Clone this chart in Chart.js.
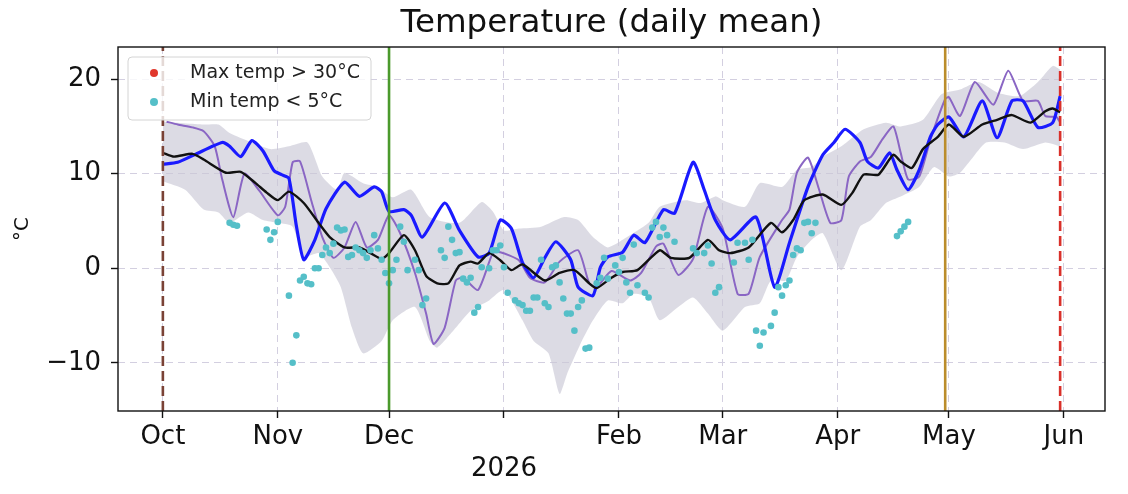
<!DOCTYPE html>
<html>
<head>
<meta charset="utf-8">
<script src="https://cdn.jsdelivr.net/npm/chart.js@4.4.1/dist/chart.umd.min.js"></script>
<style>
  html, body { margin: 0; background: #fff; }
  #wrap { width: 1128px; height: 494px; }
</style>
</head>
<body>
<div id="wrap"><canvas id="chart"></canvas></div>
<script>
// x values are days since 1 Oct 2025
const monthTicks = [0, 31, 61, 92, 123, 151, 182, 212, 243];
const monthLabels = ['Oct', 'Nov', 'Dec', '', 'Feb', 'Mar', 'Apr', 'May', 'Jun'];
const yearTick = 92;
const yearLabel = '2026';
const tempTicks = [-10, 0, 10, 20];

// observed daily mean (blue)
const obsDays = [0,4,9,16,18,21,24,27,30,32,34,36,38,41,44,49,53,57,59,61,65,67,70,76,80,85,88,91,94,97,100,103,106,110,112,116,118,120,124,127,130,135,138,143,146,149,153,160,165,169,174,178,181,184,188,190,193,196,198,201,204,207,209,212,216,221,225,229,232,236,240,242];
const obsTemp = [11.0,11.2,12.1,13.3,12.9,11.8,13.5,12.4,10.3,9.9,9.5,4.5,0.9,3.0,6.3,9.1,7.6,8.6,8.1,6.0,6.2,5.6,3.3,6.9,4.0,1.2,1.6,5.1,4.2,0.6,-1.0,1.1,2.8,0.9,-2.0,-2.9,0.1,1.2,1.7,3.5,2.7,6.2,5.8,11.2,8.3,5.1,3.0,5.4,-2.0,2.7,8.6,12.0,13.3,14.7,13.3,11.3,10.6,12.2,10.4,8.3,10.4,13.9,15.2,16.0,13.9,17.7,13.8,17.7,17.7,14.9,15.4,18.2];

// previous season (purple)
const prevDays = [1,4,8,11,14,16,19,22,26,31,33,35,37,40,43,46,49,52,55,58,61,64,68,71,73,76,79,81,85,89,91,96,99,103,107,112,115,117,121,126,129,133,135,139,143,147,151,155,158,161,167,169,171,174,177,180,183,185,188,191,194,197,199,201,204,207,211,212,215,219,224,228,232,236,238,241,242];
const prevTemp = [15.5,15.2,14.9,14.5,12.9,9.4,5.4,10.0,8.2,5.6,6.5,11.2,11.3,7.2,3.3,1.1,2.2,4.9,2.2,3.0,5.6,3.7,-0.5,-4.8,-8.0,-6.3,-1.3,-1.0,-2.3,1.6,1.7,0.85,-1.0,-1.5,0.7,1.9,-1.6,-2.0,-0.3,-1.3,-0.5,2.3,2.6,-0.7,1.0,6.5,4.2,-2.7,-2.7,1.2,5.1,6.2,10.1,11.7,8.3,4.8,5.1,9.7,11.3,11.8,13.6,15.0,12.2,9.4,9.7,13.6,17.9,18.1,16.1,19.7,17.3,20.9,17.7,17.7,16.1,16.0,15.4];

// climatological mean (black)
const meanDays = [0,3,8,11,17,21,25,28,31,34,38,42,45,49,53,56,59,61,65,68,71,74,77,80,83,85,88,91,94,97,103,107,111,115,117,121,124,128,134,137,142,147,150,153,158,164,167,170,173,178,183,186,189,193,197,199,202,205,209,212,216,221,225,229,234,238,240,242];
const meanTemp = [12.2,11.8,12.1,11.5,10.1,10.2,9.0,8.0,7.2,8.1,6.9,4.8,3.3,2.2,2.2,1.6,1.0,1.6,3.5,1.9,-0.8,-1.6,-1.6,0.3,0.7,0.5,1.6,0.85,-0.2,0.4,-1.3,-0.5,-0.2,-1.6,-2.1,-1.0,-0.4,-0.2,1.9,1.1,1.1,3.0,1.9,1.6,2.2,4.8,3.8,5.1,7.2,7.8,6.7,8.0,9.9,9.9,12.0,11.3,10.6,12.6,13.9,15.2,13.9,15.2,15.7,16.2,15.4,16.6,16.9,16.5];

// climatological range (grey band)
const bandHiDays = [0,11,15,18,24,29,34,39,43,47,49,54,58,62,67,72,80,86,89,92,96,102,108,112,116,120,124,131,134,141,145,149,151,157,161,167,171,175,178,183,189,195,199,205,210,215,220,225,231,236,240,242];
const bandHi = [15.5,15.2,15.2,14.3,13.3,12.6,12.9,13.3,9.7,8.3,10.1,9.0,8.6,7.5,8.3,5.4,4.8,7.0,6.0,4.0,4.2,4.4,5.4,5.1,3.3,2.2,3.0,4.8,6.5,7.2,6.9,7.6,7.2,6.5,9.0,8.6,10.4,10.7,11.8,12.9,14.7,15.4,15.0,15.7,18.4,18.9,19.7,18.6,18.2,19.7,21.4,21.0];
const bandLoDays = [0,6,11,15,18,23,27,31,35,38,42,45,48,51,54,59,62,68,72,74,79,83,88,92,97,100,104,107,109,113,116,120,124,127,131,134,139,143,147,151,157,161,164,168,171,175,178,183,188,191,195,199,204,208,212,215,218,222,227,232,238,242];
const bandLo = [9.2,8.3,6.2,5.9,4.8,5.9,5.1,4.8,4.4,1.2,1.6,0.1,-2.0,-6.3,-9.0,-7.7,-5.5,-4.1,-7.7,-8.4,-6.3,-4.5,-3.4,-2.3,-5.5,-7.7,-9.0,-13.3,-11.2,-7.7,-5.5,-3.4,-3.7,-2.7,-3.1,-5.5,-4.1,-3.1,-4.8,-6.6,-4.1,-3.7,-1.3,-1.3,1.2,3.0,3.7,-0.2,4.4,5.1,6.9,7.6,8.6,10.7,9.7,10.1,11.5,13.3,13.3,12.6,13.3,12.9];

// days with min temp < 5°C (cyan) and max temp > 30°C (red, none)
const coldDays = [18,19,20,28,29,30,31,34,35,36,37,38,39,40,41,42,43,44,45,46,47,48,49,50,51,52,53,54,55,56,57,58,59,60,61,62,63,64,65,66,68,69,70,71,75,76,77,78,79,80,81,82,83,84,85,86,88,89,90,91,92,93,95,96,97,98,99,100,101,102,103,104,105,106,107,108,109,110,111,112,113,114,115,117,118,119,120,122,123,124,125,126,127,128,130,131,132,133,134,135,136,138,143,144,146,147,148,149,150,154,155,157,158,159,160,161,162,164,165,166,167,168,169,170,171,172,173,174,175,176,198,199,200,201];
const coldTemp = [4.8,4.6,4.5,4.1,3.0,3.8,4.9,-2.9,-10.0,-7.1,-1.3,-0.9,-1.6,-1.7,0.0,0.0,1.4,2.2,1.6,2.6,4.3,4.0,4.1,1.2,1.4,2.2,1.9,1.6,1.1,1.9,3.5,2.1,0.9,-0.5,-1.6,-0.2,0.9,4.4,2.8,-0.2,0.9,-0.2,-3.9,-3.2,1.9,1.1,4.4,3.0,1.6,1.7,-1.1,-1.5,-1.0,-4.7,-4.1,0.1,0.0,1.9,1.9,2.4,0.1,-2.6,-3.4,-3.7,-3.9,-4.5,-4.5,-3.1,-3.1,0.9,-3.7,-4.1,0.1,0.3,-1.5,-3.2,-4.8,-4.8,-6.6,-4.1,-3.4,-8.5,-8.4,-1.6,-1.0,1.1,-1.1,0.3,-0.4,1.1,-1.5,-2.6,2.5,-1.8,-2.6,-3.1,4.3,4.9,3.3,4.3,3.5,2.8,2.1,1.6,1.6,2.4,0.5,-2.6,-2.0,0.6,2.7,2.7,0.9,3.0,-6.6,-8.2,-6.8,-6.1,-4.7,-2.0,-2.9,-1.8,-1.3,1.4,2.1,1.9,4.8,4.9,3.7,4.8,3.4,3.9,4.4,4.9];
const hotDays = [];
const hotTemp = [];

// season markers
const seasonStart = 0;
const winterStart = 61;
const springEnd = 211;
const seasonEnd = 242;

const xMin = -12.1, xMax = 254.1;
const yMin = -15.1, yMax = 23.4;

const pts = (xs, ys) => xs.map((x, i) => ({ x: x, y: ys[i] }));
const vline = (day, color, dash, order) => ({
  data: [{ x: day, y: yMin }, { x: day, y: yMax }],
  borderColor: color, borderWidth: 2.6, borderDash: dash,
  pointRadius: 0, fill: false, clip: 0, order: order
});

const FONT = '"DejaVu Sans", "Liberation Sans", sans-serif';
const CURVE = 0.2;

// box round the axes
const frame = {
  id: 'frame',
  afterDraw(chart) {
    const { ctx, chartArea: a } = chart;
    ctx.save();
    ctx.strokeStyle = '#111';
    ctx.lineWidth = 1.4;
    ctx.strokeRect(a.left, a.top, a.right - a.left, a.bottom - a.top);
    ctx.restore();
  }
};

// legend inside the axes, top left
const legendBox = {
  id: 'legendBox',
  afterDraw(chart) {
    const { ctx, chartArea: a } = chart;
    const items = chart.data.datasets.filter(d => d.inLegend);
    const x = a.left + 10, y = a.top + 10, w = 243, h = 63;
    ctx.save();
    ctx.beginPath();
    ctx.roundRect(x, y, w, h, 4);
    ctx.fillStyle = 'rgba(255,255,255,0.8)';
    ctx.fill();
    ctx.strokeStyle = '#d4d4d4';
    ctx.lineWidth = 1;
    ctx.stroke();
    ctx.font = '19px ' + FONT;
    ctx.textBaseline = 'middle';
    items.forEach((d, i) => {
      const cy = y + 16 + i * 29;
      ctx.beginPath();
      ctx.arc(x + 26, cy, 4, 0, Math.PI * 2);
      ctx.fillStyle = d.pointBackgroundColor;
      ctx.fill();
      ctx.fillStyle = '#222';
      ctx.fillText(d.label, x + 62, cy);
    });
    ctx.restore();
  }
};

const gridStyle = {
  color: '#d3cfe0', lineWidth: 1,
  tickColor: '#111', tickLength: 7, tickWidth: 1.4, tickBorderDash: []
};
// in v4 the dash of the grid lines lives under border
const borderStyle = { display: false, dash: [7, 5] };

new Chart(document.getElementById('chart'), {
  type: 'line',
  data: {
    datasets: [
      { label: 'Max temp > 30°C', inLegend: true, data: pts(hotDays, hotTemp), showLine: false,
        pointRadius: 3.3, pointBorderWidth: 0, pointBackgroundColor: '#e0372c', order: 3 },
      { label: 'Min temp < 5°C', inLegend: true, data: pts(coldDays, coldTemp), showLine: false,
        pointRadius: 3.3, pointBorderWidth: 0, pointBackgroundColor: '#55bfc8', order: 3 },
      vline(seasonStart, '#7a4236', [10, 5], 1),
      vline(winterStart, '#4b9a2c', [], 1),
      vline(springEnd, '#bb8d2c', [], 1),
      vline(seasonEnd, '#d9302a', [10, 5], 1),
      { label: 'mean', data: pts(meanDays, meanTemp), borderColor: '#111', borderWidth: 2.4,
        pointRadius: 0, tension: CURVE, fill: false, order: 5 },
      { label: 'obs', data: pts(obsDays, obsTemp), borderColor: '#1a1aff', borderWidth: 3.2,
        pointRadius: 0, tension: CURVE, fill: false, order: 6 },
      { label: 'prev', data: pts(prevDays, prevTemp), borderColor: '#8a66c4', borderWidth: 2,
        pointRadius: 0, tension: CURVE, fill: false, order: 7 },
      { label: 'range hi', data: pts(bandHiDays, bandHi), borderWidth: 0, pointRadius: 0,
        tension: CURVE, fill: '+1', backgroundColor: 'rgba(201,200,214,0.65)', order: 20 },
      { label: 'range lo', data: pts(bandLoDays, bandLo), borderWidth: 0, pointRadius: 0,
        tension: CURVE, fill: false, order: 21 }
    ]
  },
  options: {
    responsive: true,
    maintainAspectRatio: false,
    animation: false,
    events: [],
    layout: { padding: { left: 0, right: 23, top: 0, bottom: 0 } },
    plugins: {
      legend: { display: false },
      tooltip: { enabled: false },
      title: {
        display: true, fullSize: false, text: 'Temperature (daily mean)', color: '#111',
        font: { family: FONT, size: 32.5, weight: 'normal' },
        padding: { top: 4, bottom: 4 }
      }
    },
    scales: {
      x: {
        type: 'linear', min: xMin, max: xMax,
        afterBuildTicks: s => { s.ticks = monthTicks.map(v => ({ value: v })); },
        afterFit: s => { s.height = 83; },
        grid: gridStyle,
        border: borderStyle,
        ticks: {
          autoSkip: false, maxRotation: 0, padding: 4, color: '#111',
          font: { family: FONT, size: 26 },
          callback: (v, i) => v === yearTick ? ['', yearLabel] : monthLabels[i]
        }
      },
      y: {
        type: 'linear', min: yMin, max: yMax,
        afterBuildTicks: s => { s.ticks = tempTicks.map(v => ({ value: v })); },
        afterFit: s => { s.width = 118; },
        grid: gridStyle,
        border: borderStyle,
        ticks: {
          padding: 10, color: '#111', font: { family: FONT, size: 26 },
          callback: v => (v < 0 ? '\u2212' + Math.abs(v) : String(v))
        },
        title: {
          display: true, text: '°C', color: '#111',
          font: { family: FONT, size: 20 }, padding: { top: 11, bottom: 0 }
        }
      }
    }
  },
  plugins: [frame, legendBox]
});
</script>
</body>
</html>
